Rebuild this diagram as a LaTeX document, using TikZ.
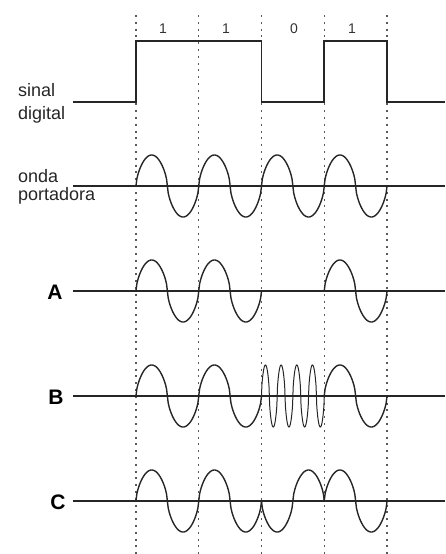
\documentclass[tikz,border=0pt]{standalone}
\usepackage{fontspec}
\setmainfont{Liberation Sans}
\begin{document}
\begin{tikzpicture}[x=1pt,y=-1pt,
  axis/.style={line width=1.8pt, black!85},
  wave/.style={line width=1.4pt, black!85},
  thinwave/.style={line width=1pt, black!85},
  sigline/.style={line width=1.8pt, black!85},
  grid/.style={black!65, line width=1.2pt, dash pattern=on 2pt off 4.8pt},
  lbl/.style={font=\fontsize{18}{20}\selectfont, anchor=base west, inner sep=0pt, text=black!85},
  big/.style={font=\fontsize{21}{24}\selectfont\bfseries, inner sep=0pt},
  bit/.style={font=\fontsize{14}{16}\selectfont, inner sep=0pt, text=black!80}]
\useasboundingbox (0,0) rectangle (445,554);
\def\Pd{62.75}
\def\ex{0.6}
% dotted grid lines
\foreach \k in {0,...,4}{
  \coordinate (gt\k) at ({136+\k*\Pd},15);
  \coordinate (gb\k) at ({136+\k*\Pd},554);
  \draw[grid] (gt\k) -- (gb\k);
}
% bit labels
\node[bit] (b1) at (163,29) {1};
\node[bit] (b2) at (226,29) {1};
\node[bit] (b3) at (294,29) {0};
\node[bit] (b4) at (352,29) {1};
% digital signal
\coordinate (ds0) at (73,102);
\coordinate (ds1) at (445,102);
\draw[sigline, line join=miter] (ds0) -- (136,102) -- (136,41) -- (261.5,41) -- (261.5,102)
  -- (324.25,102) -- (324.25,41) -- (387,41) -- (387,102) -- (ds1);
\node[lbl] (sinal) at (18,96) {sinal};
\node[lbl] (digital) at (18,119) {digital};
% carrier
\coordinate (c0) at (73,186);
\coordinate (c1) at (445,186);
\draw[axis] (c0) -- (c1);
\foreach \s in {136,198.75,261.5,324.25}
  \draw[wave] plot[variable=\t, domain=0:360, samples=73, smooth]
    ({\s+\Pd*(\t/360)},{186-31*sign(sin(\t))*pow(abs(sin(\t))+0.0001,\ex)});
\node[lbl] (onda) at (18,182) {onda};
\node[lbl] (port) at (18,200) {portadora};
% A
\coordinate (a0) at (73,291);
\coordinate (a1) at (445,291);
\draw[axis] (a0) -- (a1);
\foreach \s in {136,198.75,324.25}
  \draw[wave] plot[variable=\t, domain=0:360, samples=73, smooth]
    ({\s+\Pd*(\t/360)},{291-31*sign(sin(\t))*pow(abs(sin(\t))+0.0001,\ex)});
\node[big] (A) at (55,292) {A};
% B
\coordinate (bb0) at (73,396);
\coordinate (bb1) at (445,396);
\draw[axis] (bb0) -- (bb1);
\foreach \s in {136,198.75,324.25}
  \draw[wave] plot[variable=\t, domain=0:360, samples=73, smooth]
    ({\s+\Pd*(\t/360)},{396-31*sign(sin(\t))*pow(abs(sin(\t))+0.0001,\ex)});
\foreach \q in {0,1,2,3}
  \draw[thinwave] plot[variable=\t, domain=0:360, samples=49, smooth]
    ({261.5+\q*\Pd/4+\Pd*(\t/1440)},{396-31*sign(sin(\t))*pow(abs(sin(\t))+0.0001,\ex)});
\node[big] (B) at (56,397) {B};
% C
\coordinate (cc0) at (73,501);
\coordinate (cc1) at (445,501);
\draw[axis] (cc0) -- (cc1);
\foreach \s/\g in {136/1,198.75/1,261.5/-1,324.25/1}
  \draw[wave] plot[variable=\t, domain=0:360, samples=73, smooth]
    ({\s+\Pd*(\t/360)},{501-\g*31*sign(sin(\t))*pow(abs(sin(\t))+0.0001,\ex)});
\node[big] (C) at (58,502) {C};
\end{tikzpicture}
\end{document}
